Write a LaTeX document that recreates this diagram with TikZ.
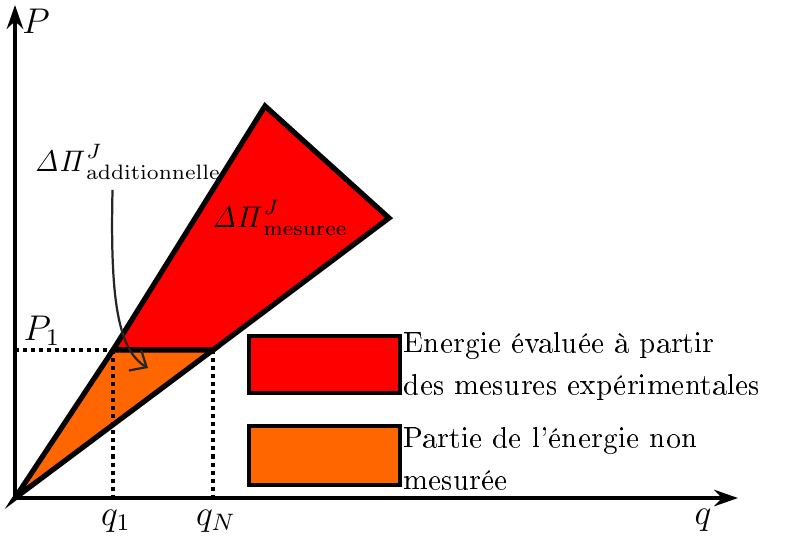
\documentclass[tikz,border=0pt]{standalone}
\usepackage[T1]{fontenc}
\usetikzlibrary{arrows.meta}

\definecolor{rouge}{RGB}{255,0,0}
\definecolor{orange}{RGB}{255,102,0}

\tikzset{
  axe/.style={line width=1.35pt, -{Stealth[length=8pt,width=5.5pt]}},
  zone/.style={line width=1.75pt, line join=miter},
  repere/.style={line width=1.35pt, dash pattern=on 1.35pt off 1.35pt},
  legende/.style={line width=1.35pt},
}

\begin{document}
\begin{tikzpicture}[x=0.336pt, y=-0.336pt]
  \useasboundingbox (0,0) rectangle (785,537);

  % points
  \coordinate (O) at (15,498);
  \coordinate (Ptop) at (15,5);
  \coordinate (Qend) at (738,498);
  \coordinate (A) at (113,350);
  \coordinate (B) at (265,106);
  \coordinate (C) at (389,218);
  \coordinate (D) at (213,350);
  \coordinate (P1) at (15,350);
  \coordinate (Q1) at (113,498);
  \coordinate (QN) at (213,498);

  % zones
  \filldraw[zone, fill=rouge] (A) -- (B) -- (C) -- (D) -- cycle;
  \filldraw[zone, fill=orange] (O) -- (A) -- (D) -- cycle;

  % pointilles
  \draw[repere] (P1) -- (A);
  \draw[repere] (A) -- (Q1);
  \draw[repere] (D) -- (QN);

  % axes
  \draw[axe] (O) -- (Ptop);
  \draw[axe] (O) -- (Qend);

  \node (p) at (36,21) {\large $P$};
  \node (q) at (703,520) {\large $q$};
  \node (p1) at (42,331) {\large $P_1$};
  \node (q1) at (116,521) {\large $q_1$};
  \node (qn) at (216,521) {\large $q_N$};

  % labels des zones
  \node (add) at (128,162) {$\mathit{\Delta\Pi}^J_{\mathrm{additionnelle}}$};
  \node (mes) at (280,218) {$\mathit{\Delta\Pi}^J_{\mathrm{mesuree}}$};
  \coordinate (fin) at (148,368);
  \draw[line width=0.75pt, black!85, -{Straight Barb[length=4.5pt,width=8pt]}]
    ([xshift=-5.2pt]add.south) .. controls (110,300) and (118,350) .. (fin);

  % legende
  \filldraw[legende, fill=rouge] (249,336) rectangle (400,393);
  \filldraw[legende, fill=orange] (249,426) rectangle (400,485);
  \node[anchor=west, align=left] (lr) at (393,366)
    {Energie évaluée à partir\\[2pt]des mesures expérimentales};
  \node[anchor=west, align=left] (lo) at (393,458)
    {Partie de l'énergie non\\[2pt]mesurée};
\end{tikzpicture}
\end{document}
